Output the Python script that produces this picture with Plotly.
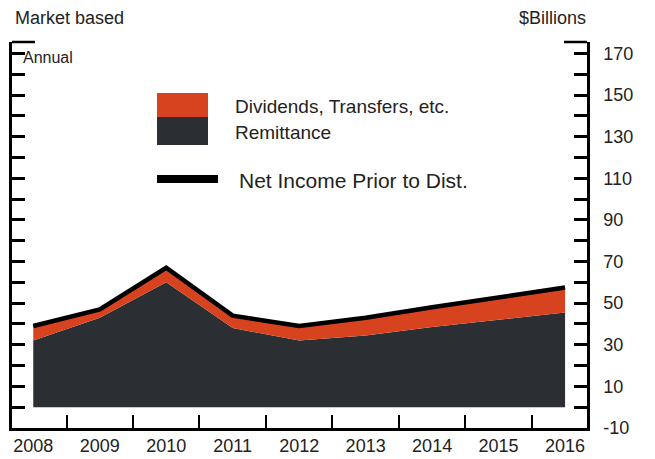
import plotly.graph_objects as go

# Federal Reserve income and distributions, $ billions (annual)
years = [2008, 2009, 2010, 2011, 2012, 2013, 2014, 2015, 2016]
remittance = [32, 43, 60, 38, 32, 34.5, 38.5, 42, 45.5]
dividends_transfers = [7, 4, 7, 6, 7, 8.5, 9.5, 11, 12]
net_income = [39, 47, 67, 44, 39, 43, 48, 53, 57.5]

right_ticks = list(range(-10, 171, 10))
right_labels = [str(v) if (v + 10) % 20 == 0 else "" for v in right_ticks]

ORANGE = "#D8431F"
DARK = "#2B2F33"
FONT = "Liberation Sans, Arial, sans-serif"

# plot area in pixels
L, R, T, B = 12, 587, 42, 428
W, H = R - L, B - T


def px(x):
    return (x - L) / W


def py(y):
    return (B - y) / H


fig = go.Figure()
fig.add_trace(go.Scatter(
    x=years, y=remittance, stackgroup="s", mode="none",
    fillcolor=DARK, line=dict(width=0), name="Remittance"))
fig.add_trace(go.Scatter(
    x=years, y=dividends_transfers, stackgroup="s", mode="none",
    fillcolor=ORANGE, line=dict(width=0), name="Dividends, Transfers, etc."))
fig.add_trace(go.Scatter(
    x=years, y=net_income, mode="lines",
    line=dict(color="black", width=4.5), name="Net Income Prior to Dist."))

fig.update_layout(
    width=655, height=459,
    margin=dict(l=L, r=655 - R, t=T, b=459 - B),
    paper_bgcolor="white", plot_bgcolor="white",
    showlegend=False,
    font=dict(family=FONT, color="#222", size=17),
    xaxis=dict(
        range=[2007.68, 2016.33], tickvals=years,
        ticktext=[str(y) for y in years], ticks="",
        showgrid=False, zeroline=False, automargin=False,
        showline=True, linecolor="black", linewidth=2.5, mirror=False,
        tickfont=dict(size=18),
        minor=dict(tick0=2008.5, dtick=1, ticks="inside", ticklen=13,
                   tickwidth=2, tickcolor="black", showgrid=False),
    ),
    yaxis=dict(
        range=[-10, 175.5], side="right",
        tickvals=right_ticks, ticktext=right_labels,
        ticks="inside", ticklen=13, tickwidth=2.5, tickcolor="black",
        showgrid=False, zeroline=False, automargin=False,
        showline=True, linecolor="black", linewidth=2.5, mirror="ticks",
        tickfont=dict(size=18), ticklabelstandoff=10,
    ),
)

# long end ticks capping the top of both vertical axes
for x0, x1 in [(L, L + 23), (R - 23, R)]:
    fig.add_shape(type="line", xref="paper", yref="paper",
                  x0=px(x0), x1=px(x1), y0=1, y1=1,
                  line=dict(color="black", width=2.5))

# Legend drawn as swatches and labels
fig.add_shape(type="rect", xref="paper", yref="paper",
              x0=px(157), x1=px(208), y0=py(117), y1=py(93),
              fillcolor=ORANGE, line=dict(width=0))
fig.add_shape(type="rect", xref="paper", yref="paper",
              x0=px(157), x1=px(208), y0=py(145), y1=py(117),
              fillcolor=DARK, line=dict(width=0))
fig.add_shape(type="line", xref="paper", yref="paper",
              x0=px(157), x1=px(218), y0=py(179), y1=py(179),
              line=dict(color="black", width=8))

labels = [
    ("Dividends, Transfers, etc.", 233, 106, 19),
    ("Remittance", 233, 132, 19),
    ("Net Income Prior to Dist.", 237, 180, 21),
]
for text, x, y, size in labels:
    fig.add_annotation(text=text, xref="paper", yref="paper",
                       x=px(x), y=py(y),
                       xanchor="left", yanchor="middle", showarrow=False,
                       font=dict(size=size, family=FONT, color="#222"))

fig.add_annotation(text="Market based", xref="paper", yref="paper",
                   x=px(13), y=py(18), xanchor="left", yanchor="middle",
                   showarrow=False,
                   font=dict(size=18, family=FONT, color="#222"))
fig.add_annotation(text="$Billions", xref="paper", yref="paper",
                   x=px(588), y=py(18), xanchor="right", yanchor="middle",
                   showarrow=False,
                   font=dict(size=18, family=FONT, color="#222"))
fig.add_annotation(text="Annual", xref="paper", yref="paper",
                   x=px(21), y=py(57), xanchor="left", yanchor="middle",
                   showarrow=False,
                   font=dict(size=16, family=FONT, color="#222"))

fig.write_html("out.html")
